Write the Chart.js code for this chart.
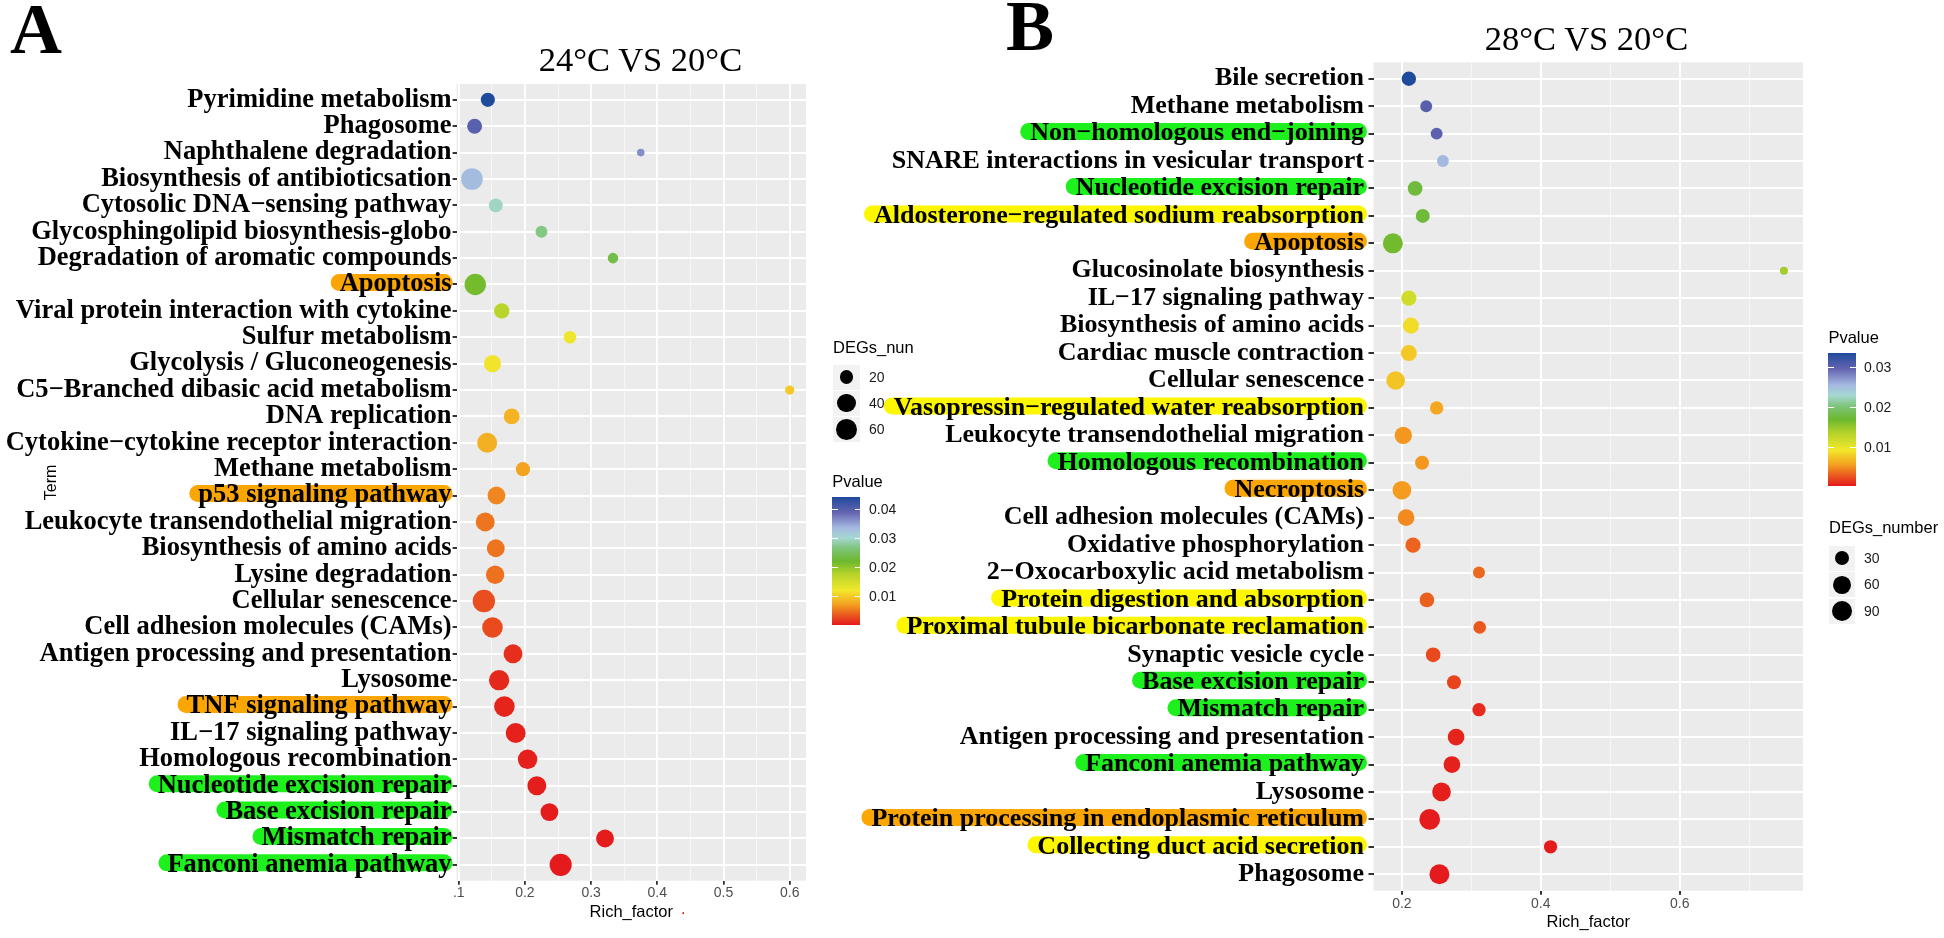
<!DOCTYPE html>
<html><head><meta charset="utf-8">
<script src="https://cdn.jsdelivr.net/npm/chart.js@4.4.0/dist/chart.umd.min.js"></script>
<style>
html,body{margin:0;padding:0;background:#fff;}
#wrap{position:relative;width:1944px;height:938px;overflow:hidden;background:#fff;}
canvas{position:absolute;top:0;}
.t{position:absolute;white-space:nowrap;}
</style></head><body>
<div id="wrap">
<canvas id="cA" width="820" height="938" style="left:0px"></canvas>
<canvas id="cB" width="1104" height="938" style="left:840px"></canvas>
</div>
<script>
// ---------------- DATA ----------------
const termsA = ["Pyrimidine metabolism","Phagosome","Naphthalene degradation","Biosynthesis of antibioticsation","Cytosolic DNA−sensing pathway","Glycosphingolipid biosynthesis-globo","Degradation of aromatic compounds","Apoptosis","Viral protein interaction with cytokine","Sulfur metabolism","Glycolysis / Gluconeogenesis","C5−Branched dibasic acid metabolism","DNA replication","Cytokine−cytokine receptor interaction","Methane metabolism","p53 signaling pathway","Leukocyte transendothelial migration","Biosynthesis of amino acids","Lysine degradation","Cellular senescence","Cell adhesion molecules (CAMs)","Antigen processing and presentation","Lysosome","TNF signaling pathway","IL−17 signaling pathway","Homologous recombination","Nucleotide excision repair","Base excision repair","Mismatch repair","Fanconi anemia pathway"];
const richA = [0.144,0.124,0.375,0.120,0.156,0.225,0.333,0.125,0.165,0.268,0.151,0.600,0.180,0.143,0.197,0.157,0.140,0.156,0.155,0.138,0.151,0.182,0.161,0.169,0.186,0.204,0.218,0.237,0.321,0.254];
const degA = [21,24,3,61,20,13,9,59,26,15,34,6,28,50,21,38,44,38,41,66,54,44,52,54,50,47,44,38,38,64];
const pvalA = [0.0445,0.0400,0.0365,0.0334,0.0298,0.0272,0.0240,0.0218,0.0174,0.0125,0.0118,0.0099,0.0085,0.0083,0.0074,0.0059,0.0050,0.0050,0.0048,0.0030,0.0028,0.0012,0.0009,0.0007,0.0005,0.0004,0.0003,0.0002,0.0002,0.0001];
const markA = ["","","","","","","","O","","","","","","","","O","","","","","","","","O","","","G","G","G","G"];

const termsB = ["Bile secretion","Methane metabolism","Non−homologous end−joining","SNARE interactions in vesicular transport","Nucleotide excision repair","Aldosterone−regulated sodium reabsorption","Apoptosis","Glucosinolate biosynthesis","IL−17 signaling pathway","Biosynthesis of amino acids","Cardiac muscle contraction","Cellular senescence","Vasopressin−regulated water reabsorption","Leukocyte transendothelial migration","Homologous recombination","Necroptosis","Cell adhesion molecules (CAMs)","Oxidative phosphorylation","2−Oxocarboxylic acid metabolism","Protein digestion and absorption","Proximal tubule bicarbonate reclamation","Synaptic vesicle cycle","Base excision repair","Mismatch repair","Antigen processing and presentation","Fanconi anemia pathway","Lysosome","Protein processing in endoplasmic reticulum","Collecting duct acid secretion","Phagosome"];
const richB = [0.210,0.235,0.250,0.259,0.219,0.230,0.187,0.750,0.210,0.213,0.210,0.191,0.250,0.202,0.229,0.200,0.206,0.216,0.311,0.236,0.312,0.245,0.275,0.311,0.278,0.272,0.257,0.240,0.414,0.254];
const degB = [32,17,17,17,34,29,82,3,38,44,44,68,25,55,29,68,50,38,17,34,21,34,29,25,50,50,68,90,25,82];
const pvalB = [0.0335,0.0302,0.0300,0.0255,0.0175,0.0173,0.0165,0.0141,0.0115,0.0085,0.0075,0.0073,0.0058,0.0051,0.0051,0.0053,0.0046,0.0031,0.0033,0.0030,0.0027,0.0021,0.0018,0.0008,0.0005,0.0004,0.0003,0.0002,0.0002,0.0001];
const markB = ["","","G","","G","Y","O","","","","","","Y","","G","O","","","","Y","Y","","G","G","","G","","O","Y",""];

const xTicksA = [0.1,0.15,0.2,0.25,0.3,0.35,0.4,0.45,0.5,0.55,0.6];
const xMajorA = [0.1,0.2,0.3,0.4,0.5,0.6];
const xLabelsA = [".1","0.2","0.3","0.4","0.5","0.6"];
const xTicksB = [0.2,0.3,0.4,0.5,0.6,0.7];
const xMajorB = [0.2,0.4,0.6];
const xLabelsB = ["0.2","0.4","0.6"];
const sizeBreaksA = [20,40,60];
const sizeBreaksB = [30,60,90];
const pBreaksA = [0.01,0.02,0.03,0.04];
const pBreaksB = [0.01,0.02,0.03];

// ---------------- STYLE HELPERS ----------------
const PAL = [[0,'#e41a1c'],[0.08,'#ea5a1e'],[0.16,'#f4a020'],[0.27,'#f2e82c'],[0.40,'#b4d22a'],[0.50,'#6cb82e'],[0.60,'#7ec47a'],[0.68,'#a6d8d2'],[0.76,'#a4b8e0'],[0.88,'#6464b0'],[1,'#1f4b9d']];
function hex2rgb(h){return [parseInt(h.slice(1,3),16),parseInt(h.slice(3,5),16),parseInt(h.slice(5,7),16)];}
function palColor(f){
  f=Math.max(0,Math.min(1,f));
  for(let i=1;i<PAL.length;i++){
    if(f<=PAL[i][0]){
      const a=PAL[i-1],b=PAL[i],t=(f-a[0])/(b[0]-a[0]);
      const ca=hex2rgb(a[1]),cb=hex2rgb(b[1]);
      return 'rgb('+ca.map((v,k)=>Math.round(v+(cb[k]-v)*t)).join(',')+')';
    }
  }
  return PAL[PAL.length-1][1];
}
const HL = {O:'#fca604', G:'#1ef01e', Y:'#fcf600'};
const SERIF = '"Liberation Serif","Times New Roman",serif';
const SANS = '"Liberation Sans",Arial,sans-serif';
const wrap = document.getElementById('wrap');

function makeRadius(deg, rmin, rmax){
  const lo=Math.sqrt(Math.min(...deg)), hi=Math.sqrt(Math.max(...deg));
  return n => rmin + (Math.sqrt(n)-lo)/(hi-lo)*(rmax-rmin);
}

function addText(txt,left,cy,size,o){
  o=o||{};
  const d=document.createElement('div');
  d.className='t'; d.textContent=txt;
  d.style.left=left+'px'; d.style.top=(cy-size*0.6)+'px';
  d.style.height=(size*1.2)+'px'; d.style.lineHeight=(size*1.2)+'px';
  d.style.fontSize=size+'px'; d.style.fontFamily=o.family||SANS;
  d.style.color=o.color||'#000';
  if(o.weight) d.style.fontWeight=o.weight;
  if(o.center){d.style.transform='translateX(-50%)';}
  wrap.appendChild(d); return d;
}
function addBox(left,top,w,h,bg){
  const d=document.createElement('div');
  d.style.position='absolute';d.style.left=left+'px';d.style.top=top+'px';
  d.style.width=w+'px';d.style.height=h+'px';d.style.background=bg;
  wrap.appendChild(d); return d;
}

function makePanel(id, terms, rich, deg, pval, mark, s){
  const rad = makeRadius(deg, s.rmin, s.rmax);
  const plo=Math.min(...pval), phi=Math.max(...pval);
  const col = p => palColor((p-plo)/(phi-plo));
  const isMajor = v => s.major.some(m=>Math.abs(m-v)<1e-9);
  const panelPlugin = {
    id:'panel'+id,
    beforeDraw(chart){
      const {ctx, chartArea:a} = chart;
      const ys = chart.scales.y;
      ctx.save();
      ctx.fillStyle='#ebebeb';
      ctx.fillRect(a.left,a.top,a.right-a.left,a.bottom-a.top);
      ctx.font='bold '+s.font+'px '+SERIF;
      terms.forEach((t,i)=>{
        const g=mark[i]; if(!g) return;
        const w=ctx.measureText(t).width;
        const right=ys.right-s.tl-s.pad;
        const yc=ys.getPixelForValue(i+1)+s.hlDy;
        const x0=right-w-s.hlL, x1=right+s.hlR, h=s.hlH;
        ctx.fillStyle=HL[g];
        ctx.beginPath(); ctx.roundRect(x0,yc-h/2,x1-x0,h,h/2); ctx.fill();
      });
      ctx.restore();
    }
  };
  const yOpts = {
    type:'linear', reverse:true, min:0.4, max:terms.length+0.6,
    afterBuildTicks: sc => { sc.ticks = terms.map((t,i)=>({value:i+1})); },
    afterFit: sc => { sc.width = s.yW; },
    ticks:{autoSkip:false, padding:s.pad, color:'#000', font:{family:SERIF, weight:'bold', size:s.font},
      callback:(v,i)=>terms[i]},
    grid:{color:'#ffffff', lineWidth:2, tickLength:s.tl, tickColor:'#333333', drawTicks:true},
    border:{display:false}
  };
  if(s.yTitle){
    yOpts.title={display:true, text:s.yTitle, color:'#000', font:{family:SANS,size:16}, padding:{top:s.yTitlePad,bottom:0}};
  }
  return new Chart(document.getElementById(id), {
    type:'scatter',
    data:{datasets:[{
      data: rich.map((x,i)=>({x:x, y:i+1})),
      pointRadius: c => rad(deg[c.dataIndex]),
      pointHoverRadius: c => rad(deg[c.dataIndex]),
      pointBackgroundColor: c => col(pval[c.dataIndex]),
      pointBorderWidth:0, pointBorderColor:'rgba(0,0,0,0)', clip:false
    }]},
    options:{
      responsive:false, animation:false, devicePixelRatio:1, events:[],
      layout:{padding:{left:0, top:s.padTop, right:s.padRight, bottom:0}},
      plugins:{legend:{display:false}, tooltip:{enabled:false}},
      scales:{
        x:{
          type:'linear', min:s.xmin, max:s.xmax,
          afterBuildTicks: sc => { sc.ticks = s.xticks.map(v=>({value:v})); },
          afterFit: sc => { sc.height = s.xH; },
          ticks:{autoSkip:false, maxRotation:0, minRotation:0, padding:s.xPad, color:'#4d4d4d', font:{family:SANS,size:14},
            callback:(v)=>{const k=s.major.findIndex(m=>Math.abs(m-v)<1e-9); return k<0?'':s.labels[k];}},
          grid:{
            color: c => (c.tick && isMajor(c.tick.value)) ? '#ffffff' : '#f7f7f7',
            lineWidth: c => (c.tick && isMajor(c.tick.value)) ? s.majW : 1,
            tickColor: c => (c.tick && isMajor(c.tick.value)) ? '#333333' : 'rgba(0,0,0,0)',
            tickLength:4, drawTicks:true
          },
          border:{display:false},
          title:{display:true, text:'Rich_factor', color:'#000', font:{family:SANS,size:16.5}, padding:{top:0,bottom:s.titlePadB}}
        },
        y: yOpts
      }
    },
    plugins:[panelPlugin]
  });
  return {rad, plo, phi};
}

const sA = {rmin:3.8, rmax:11.2, major:xMajorA, labels:xLabelsA, xticks:xTicksA, xmin:0.0968, xmax:0.6246,
  yW:456.6, xH:57.3, padTop:84, padRight:14, font:26.5, tl:4, pad:1, xPad:0, titlePadB:16, majW:1.8,
  hlDy:-2, hlL:9, hlR:1, hlH:17, yTitle:'Term', yTitlePad:42};
const sB = {rmin:4, rmax:10.35, major:xMajorB, labels:xLabelsB, xticks:xTicksB, xmin:0.1591, xmax:0.7775,
  yW:533.5, xH:47.3, padTop:62.3, padRight:141, font:26, tl:5, pad:4.5, xPad:1, titlePadB:6, majW:2,
  hlDy:-2, hlL:10, hlR:3, hlH:17, yTitle:null};

makePanel('cA', termsA, richA, degA, pvalA, markA, sA);
makePanel('cB', termsB, richB, degB, pvalB, markB, sB);

// ---------------- LEGENDS / TITLES ----------------
function sizeLegend(title, left, titleCy, keyCys, breaks, deg, rmin, rmax, keyW, keyH, labLeft){
  addText(title, left, titleCy, 16.5);
  const rad = makeRadius(deg, rmin, rmax);
  breaks.forEach((b,i)=>{
    const cy=keyCys[i];
    addBox(left, cy-keyH/2, keyW, keyH, '#f2f2f2');
    const r=rad(b);
    const dot=addBox(left+keyW/2-r, cy-r, 2*r, 2*r, '#000');
    dot.style.borderRadius='50%';
    addText(String(b), labLeft, cy, 14, {color:'#1a1a1a'});
  });
}
function colorLegend(title, left, titleCy, top, w, h, pval, breaks, labLeft){
  addText(title, left, titleCy, 16.5);
  const lo=Math.min(...pval), hi=Math.max(...pval);
  const grad='linear-gradient(to top,'+PAL.map(p=>p[1]+' '+(p[0]*100)+'%').join(',')+')';
  addBox(left, top, w, h, grad);
  breaks.forEach(b=>{
    const y=top+h-(b-lo)/(hi-lo)*h;
    addBox(left, y-0.5, w/5, 1, '#ffffff');
    addBox(left+w-w/5, y-0.5, w/5, 1, '#ffffff');
    addText(b.toFixed(2), labLeft, y, 14, {color:'#1a1a1a'});
  });
}
sizeLegend('DEGs_nun', 833, 348, [377.3,403.3,429.3], sizeBreaksA, degA, sA.rmin, sA.rmax, 27, 25, 869);
colorLegend('Pvalue', 832.3, 481.5, 496.7, 28, 128.3, pvalA, pBreaksA, 869);
colorLegend('Pvalue', 1828.4, 337.5, 353.3, 27.3, 133.2, pvalB, pBreaksB, 1864);
sizeLegend('DEGs_number', 1829, 528, [558,584.7,611], sizeBreaksB, degB, sB.rmin, sB.rmax, 26, 25, 1864);

// panel letters & titles
function serifText(txt, left, baseline, size, weight, center){
  const d=document.createElement('div');
  d.className='t'; d.textContent=txt;
  d.style.fontFamily=SERIF; d.style.fontSize=size+'px'; d.style.lineHeight=size+'px';
  d.style.fontWeight=weight; d.style.color='#000';
  d.style.top=(baseline-0.8375*size)+'px'; d.style.left=left+'px';
  if(center) d.style.transform='translateX(-50%)';
  wrap.appendChild(d);
}
serifText('A', 10, 53, 72, 'bold', false);
serifText('B', 1006, 50.7, 72, 'bold', false);
serifText('24°C VS 20°C', 640.5, 70.7, 34.5, 'normal', true);
serifText('28°C VS 20°C', 1586.5, 50, 34.5, 'normal', true);
addText('.', 681, 909, 16, {color:'#e00000'});
</script>
</body></html>
